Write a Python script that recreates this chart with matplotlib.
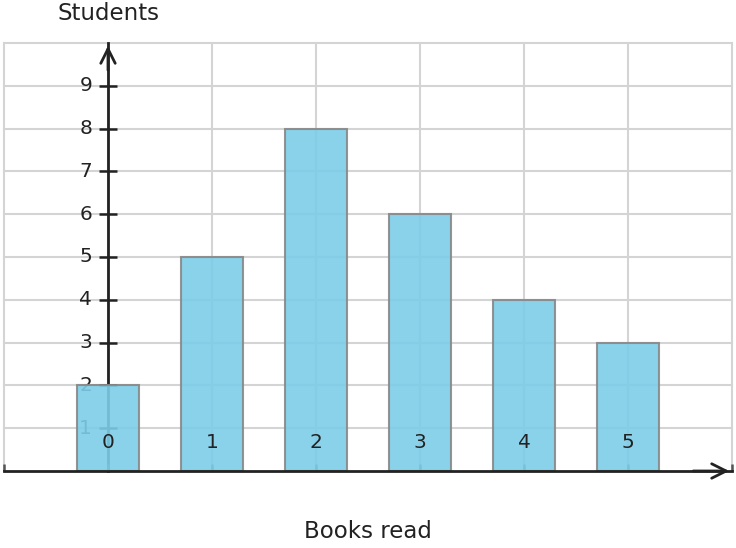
import matplotlib.pyplot as plt
import matplotlib.transforms as mtransforms

books = [0, 1, 2, 3, 4, 5]
students = [2, 5, 8, 6, 4, 3]
ytick_vals = [1, 2, 3, 4, 5, 6, 7, 8, 9]

fig = plt.figure(figsize=(7.36, 5.48), dpi=100)
ax = fig.add_axes([4 / 736, 77 / 548, 728 / 736, 428 / 548])

ax.set_xlim(-1, 6)
ax.set_ylim(0, 10)

grid_c = '#d4d4d4'
xt = [-1] + books + [6]
ax.set_xticks(xt)
ax.set_xticklabels([])
ax.set_yticks(ytick_vals)

# grid drawn by hand so it stays under the bars
for x in xt:
    ax.axvline(x, color=grid_c, linewidth=1.5, clip_on=False, zorder=0)
for y in ytick_vals + [10]:
    ax.axhline(y, color=grid_c, linewidth=1.5, clip_on=False, zorder=0)

ax.bar(books, students, width=0.6, color='#7ccde8', alpha=0.9,
       edgecolor='#888888', linewidth=1.5, zorder=3)

for s in ['top', 'right']:
    ax.spines[s].set_visible(False)
ax.spines['left'].set_position(('data', 0))
ax.spines['bottom'].set_position(('data', 0))
ax.spines['left'].set_color('#222222')
ax.spines['bottom'].set_color('#222222')
ax.spines['left'].set_linewidth(2)
ax.spines['bottom'].set_linewidth(2)
ax.spines['left'].set_zorder(2)
ax.spines['bottom'].set_zorder(4)

ax.tick_params(axis='y', direction='inout', length=13, width=1.8,
               color='#222222', labelsize=14.5, labelcolor='#222222', pad=5)
ax.tick_params(axis='x', direction='in', length=5, width=1.8, color='#555555')
for lab in ax.get_yticklabels():
    lab.set_va('center')
ax.yaxis.set_zorder(2)
ax.xaxis.set_zorder(2)

# x labels sit inside the plot, above the bars
trans = mtransforms.blended_transform_factory(ax.transData, ax.transAxes)
for b in books:
    ax.text(b, 29 / 428, str(b), transform=trans, ha='center', va='center',
            fontsize=14.5, color='#222222', zorder=6)

ax.annotate('', xy=(0, 10), xytext=(0, 9.3),
            arrowprops=dict(arrowstyle='->', color='#222222', lw=2,
                            mutation_scale=26), annotation_clip=False)
ax.annotate('', xy=(6, 0), xytext=(5.6, 0),
            arrowprops=dict(arrowstyle='->', color='#222222', lw=2,
                            mutation_scale=26), annotation_clip=False, zorder=5)

fig.text(108 / 736, 1 - 13 / 548, 'Students', ha='center', va='center',
         fontsize=16.5, color='#222222')
fig.text(368 / 736, 1 - 531 / 548, 'Books read', ha='center', va='center',
         fontsize=16.5, color='#222222')

fig.savefig('out.png', dpi=100)
